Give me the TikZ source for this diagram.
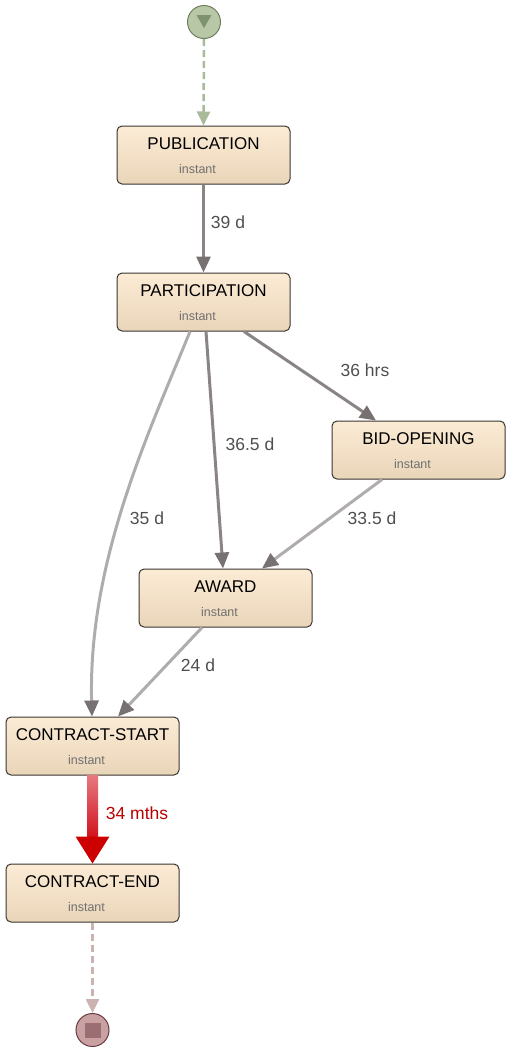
\documentclass[tikz,border=0pt]{standalone}
\usepackage{fontspec}
\setmainfont{Liberation Sans}
\usetikzlibrary{arrows.meta}
\definecolor{boxtop}{HTML}{FCEBD5}
\definecolor{boxbot}{HTML}{E9D5B9}
\definecolor{boxline}{HTML}{3A3530}
\definecolor{edgedark}{HTML}{8A8484}
\definecolor{edgelight}{HTML}{B0ACAC}
\definecolor{tipcol}{HTML}{777171}
\definecolor{lblcol}{HTML}{4E4E4E}
\definecolor{subcol}{HTML}{707070}
\definecolor{redlbl}{HTML}{B80000}
\definecolor{startfill}{HTML}{B8C7A6}
\definecolor{startline}{HTML}{6E7F5E}
\definecolor{startmark}{HTML}{7E9270}
\definecolor{startedge}{HTML}{A9BA9A}
\definecolor{endfill}{HTML}{C9A1A3}
\definecolor{endline}{HTML}{6A3B40}
\definecolor{endmark}{HTML}{9A6E73}
\definecolor{endedge}{HTML}{CDB2B2}
\definecolor{redtop}{HTML}{E87880}
\definecolor{redbot}{HTML}{D0141E}
\definecolor{redtip}{HTML}{CC0000}
\tikzset{
  box/.style={rectangle, rounded corners=5pt, draw=boxline, line width=1pt,
    top color=boxtop, bottom color=boxbot, minimum width=173pt, minimum height=58pt, inner sep=0pt},
  ttl/.style={inner sep=0pt, font=\fontsize{17}{20}\selectfont, text=black},
  sub/.style={inner sep=0pt, font=\fontsize{12.5}{15}\selectfont, text=subcol},
  elbl/.style={inner sep=0pt, font=\fontsize{17.5}{20}\selectfont, text=lblcol},
  darkedge/.style={draw=edgedark, line width=3pt, -{Triangle[length=16pt,width=14pt,color=tipcol]}},
  lightedge/.style={draw=edgelight, line width=3pt, -{Triangle[length=16pt,width=14pt,color=tipcol]}},
  termc/.style={circle, minimum size=33pt, inner sep=0pt, line width=1pt},
}
\newcommand\stepbox[4]{%
  \node[box] (#1) at (#2,#3) {};
  \node[ttl] (#1-t) at ([yshift=11pt]#1.center) {#4};
  \node[sub] (#1-s) at ([xshift=-6pt,yshift=-14pt]#1.center) {instant};
}
\begin{document}
\begin{tikzpicture}[x=1pt,y=-1pt]
\useasboundingbox (0,0) rectangle (512,1050);

% start / end events
\node[termc, fill=startfill, draw=startline] (start) at (204,22) {};
\fill[startmark] ([xshift=-7.5pt,yshift=7pt]start.center) -- ([xshift=7.5pt,yshift=7pt]start.center) -- ([yshift=-6pt]start.center) -- cycle;
\node[termc, fill=endfill, draw=endline] (stop) at (92.5,1030) {};
\fill[endmark] ([xshift=-8pt,yshift=-8pt]stop.center) rectangle ([xshift=8pt,yshift=7pt]stop.center);

% activities
\stepbox{pub}{203.5}{155}{PUBLICATION}
\stepbox{part}{203.5}{302}{PARTICIPATION}
\stepbox{bid}{418.5}{450}{BID-OPENING}
\stepbox{award}{225.5}{598}{AWARD}
\stepbox{cs}{92.5}{746}{CONTRACT-START}
\stepbox{ce}{92.5}{893}{CONTRACT-END}

% dashed start/end connectors
\draw[startedge, line width=2.5pt, dash pattern=on 7pt off 4pt, -{Triangle[length=14pt,width=13pt,color=startedge]}] (start.south) -- (pub.north);
\draw[endedge, line width=2.5pt, dash pattern=on 7pt off 4pt, -{Triangle[length=14pt,width=13pt,color=endedge]}] (ce.south) -- (stop.north);

% edges
\draw[darkedge] (pub.south) -- (part.north);
\draw[darkedge] ([xshift=40.5pt]part.south) -- ([xshift=-42.5pt]bid.north);
\draw[darkedge] ([xshift=2.5pt]part.south) -- ([xshift=-2.5pt]award.north);
\draw[lightedge] ([xshift=-13.5pt]part.south) .. controls (150,430) and (88,560) .. ([xshift=-0.5pt]cs.north);
\draw[lightedge] ([xshift=-36.5pt]bid.south) -- ([xshift=36.5pt]award.north);
\draw[lightedge] ([xshift=-23.5pt]award.south) -- ([xshift=25.5pt]cs.north);

% red thick connector
\shade[top color=redtop, bottom color=redbot] ([xshift=-5.5pt]cs.south) rectangle ([xshift=5.5pt,yshift=27pt]ce.north);
\fill[redtip] ([xshift=-17pt,yshift=27pt]ce.north) -- ([xshift=17pt,yshift=27pt]ce.north) -- (ce.north) -- cycle;

% edge labels
\node[elbl] (l1) at (228,222) {39 d};
\node[elbl] (l2) at (365,370) {36 hrs};
\node[elbl] (l3) at (250,444) {36.5 d};
\node[elbl] (l4) at (147,518) {35 d};
\node[elbl] (l5) at (372,518) {33.5 d};
\node[elbl] (l6) at (198,665) {24 d};
\node[elbl, text=redlbl] (l7) at (137,813) {34 mths};
\end{tikzpicture}
\end{document}
